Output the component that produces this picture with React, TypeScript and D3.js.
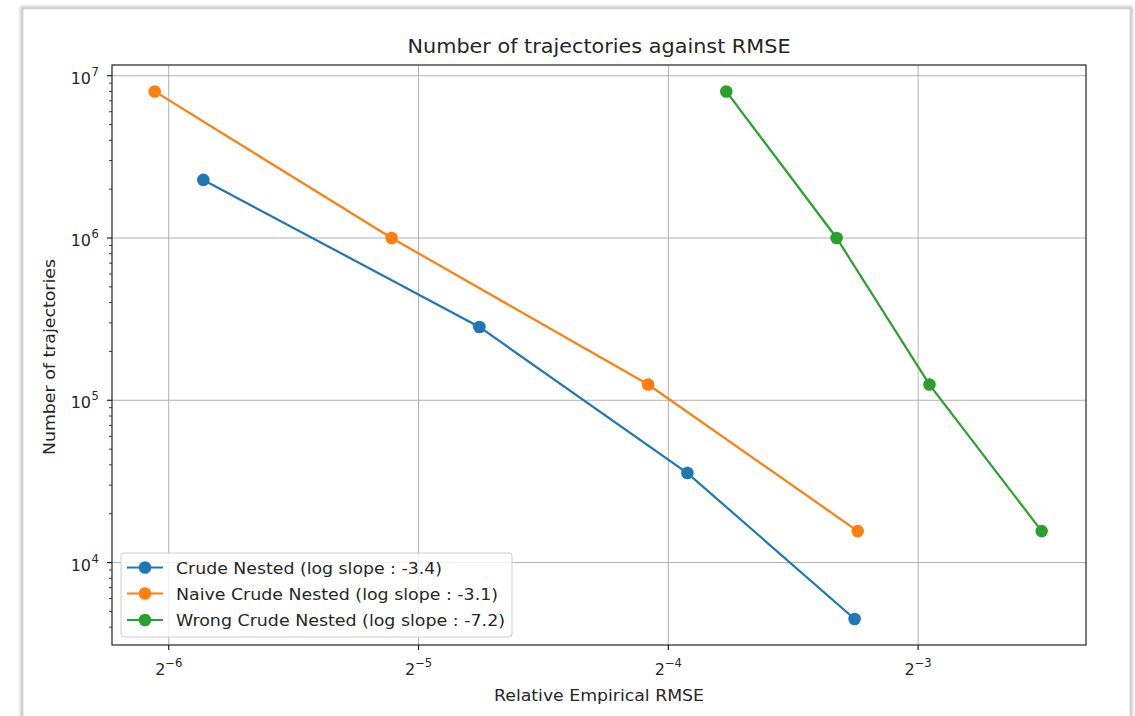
import React from "react";
import * as d3 from "d3";

const W = 1135;
const H = 716;

// Relative empirical RMSE (x) and number of trajectories (y) per method
const crudeRmse = [0.0172, 0.0370, 0.0659, 0.1048];
const crudeTraj = [2.28e6, 2.83e5, 3.56e4, 4.49e3];

const naiveRmse = [0.01503, 0.0290, 0.0591, 0.1057];
const naiveTraj = [8.0e6, 1.0e6, 1.25e5, 1.5625e4];

const wrongRmse = [0.0734, 0.0997, 0.1290, 0.1761];
const wrongTraj = [8.0e6, 1.0e6, 1.25e5, 1.5625e4];

const seriesNames = [
  "Crude Nested (log slope : -3.4)",
  "Naive Crude Nested (log slope : -3.1)",
  "Wrong Crude Nested (log slope : -7.2)",
];
const seriesColors = ["#1f77b4", "#ff7f0e", "#2ca02c"];

const xTickExps = [-6, -5, -4, -3];
const yTickExps = [4, 5, 6, 7];

const title = "Number of trajectories against RMSE";
const xLabel = "Relative Empirical RMSE";
const yLabel = "Number of trajectories";

const FONT = "DejaVu Sans, sans-serif";
const INK = "#262626";

export default function App() {
  const left = 112, right = 1086, top = 65, bottom = 645;

  const x = d3.scaleLog().base(2).domain([Math.pow(2, -6.227), Math.pow(2, -2.328)]).range([left, right]);
  const y = d3.scaleLog().domain([Math.pow(10, 3.492), Math.pow(10, 7.066)]).range([bottom, top]);

  const series = [
    { xs: crudeRmse, ys: crudeTraj },
    { xs: naiveRmse, ys: naiveTraj },
    { xs: wrongRmse, ys: wrongTraj },
  ];

  const line = d3.line<[number, number]>().x((d) => x(d[0])).y((d) => y(d[1]));

  // minor y ticks: 2..9 x 10^k inside the domain
  const [yMin, yMax] = y.domain();
  const minorY: number[] = [];
  for (let k = 3; k <= 7; k++) {
    for (let m = 2; m <= 9; m++) {
      const v = m * Math.pow(10, k);
      if (v >= yMin && v <= yMax) minorY.push(v);
    }
  }

  const legX = 121, legY = 553, legW = 391, legH = 84;
  const rowY = [567.5, 593.5, 620];
  const legendWidths = [266, 322, 329];

  return (
    <svg
      width={W}
      height={H}
      style={{ position: "absolute", left: 0, top: 0, background: "#fff" }}
      fontFamily={FONT}
    >
      <defs>
        <filter id="cardShadow" x="-5%" y="-5%" width="110%" height="110%">
          <feGaussianBlur stdDeviation="1.5" />
        </filter>
      </defs>
      {/* card frame around the figure */}
      <rect x={22} y={8} width={1109} height={730} fill="none" stroke="#bdbdbd" strokeWidth={3} filter="url(#cardShadow)" />
      <rect x={23} y={9} width={1107} height={730} fill="#fff" stroke="#d0d0d0" strokeWidth={0.8} />

      {/* grid */}
      {xTickExps.map((e) => (
        <line key={"gx" + e} x1={x(Math.pow(2, e))} x2={x(Math.pow(2, e))} y1={top} y2={bottom} stroke="#b0b0b0" strokeWidth={1} />
      ))}
      {yTickExps.map((e) => (
        <line key={"gy" + e} x1={left} x2={right} y1={y(Math.pow(10, e))} y2={y(Math.pow(10, e))} stroke="#b0b0b0" strokeWidth={1} />
      ))}

      {/* series */}
      {series.map((s, i) => {
        const pts = s.xs.map((v, j) => [v, s.ys[j]] as [number, number]);
        return (
          <g key={"s" + i}>
            <path d={line(pts) || ""} fill="none" stroke={seriesColors[i]} strokeWidth={2.2} />
            {pts.map((p, j) => (
              <circle key={j} cx={x(p[0])} cy={y(p[1])} r={6.3} fill={seriesColors[i]} />
            ))}
          </g>
        );
      })}

      {/* spines */}
      <rect x={left} y={top} width={right - left} height={bottom - top} fill="none" stroke="#222" strokeWidth={1.2} />

      {/* x ticks */}
      {xTickExps.map((e) => {
        const px = x(Math.pow(2, e));
        return (
          <g key={"xt" + e}>
            <line x1={px} x2={px} y1={bottom} y2={bottom + 5} stroke="#222" strokeWidth={1.2} />
            <text x={px} y={675} fontSize={16} fill={INK} textAnchor="middle">
              2
              <tspan fontSize={11.5} dy={-8}>{"\u2212" + Math.abs(e)}</tspan>
            </text>
          </g>
        );
      })}

      {/* y ticks */}
      {yTickExps.map((e) => {
        const py = y(Math.pow(10, e));
        return (
          <g key={"yt" + e}>
            <line x1={left - 5} x2={left} y1={py} y2={py} stroke="#222" strokeWidth={1.2} />
            <text x={91} y={py + 8} fontSize={16} fill={INK} textAnchor="end">
              10
            </text>
            <text x={91.5} y={py} fontSize={11.5} fill={INK} textAnchor="start">
              {e}
            </text>
          </g>
        );
      })}
      {minorY.map((v, i) => (
        <line key={"my" + i} x1={left - 3} x2={left} y1={y(v)} y2={y(v)} stroke="#222" strokeWidth={0.9} />
      ))}

      {/* labels */}
      <text x={(left + right) / 2 + 0} y={53} fontSize={19} fill={INK} textAnchor="middle" textLength={383} lengthAdjust="spacingAndGlyphs">
        {title}
      </text>
      <text x={(left + right) / 2} y={701} fontSize={16} fill={INK} textAnchor="middle" textLength={210} lengthAdjust="spacingAndGlyphs">
        {xLabel}
      </text>
      <text
        transform={`translate(55, ${(top + bottom) / 2 + 2}) rotate(-90)`}
        fontSize={16}
        fill={INK}
        textAnchor="middle"
        textLength={196}
        lengthAdjust="spacingAndGlyphs"
      >
        {yLabel}
      </text>

      {/* legend */}
      <rect x={legX} y={legY} width={legW} height={legH} rx={3} fill="#fff" fillOpacity={0.8} stroke="#cccccc" strokeWidth={1} />
      {seriesNames.map((n, i) => (
        <g key={"lg" + i}>
          <line x1={127} x2={163} y1={rowY[i]} y2={rowY[i]} stroke={seriesColors[i]} strokeWidth={2.2} />
          <circle cx={145} cy={rowY[i]} r={6.3} fill={seriesColors[i]} />
          <text x={176} y={rowY[i] + 6} fontSize={16} fill={INK} textLength={legendWidths[i]} lengthAdjust="spacingAndGlyphs">
            {n}
          </text>
        </g>
      ))}
    </svg>
  );
}
